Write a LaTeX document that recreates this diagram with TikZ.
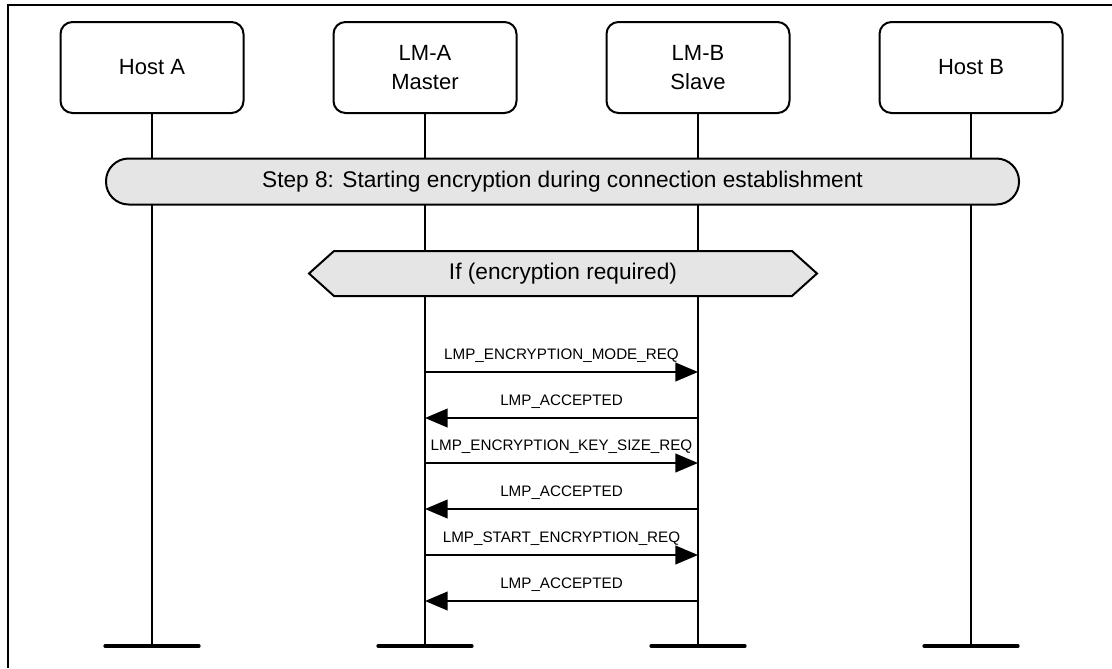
\documentclass[tikz,border=0pt]{standalone}
\usepackage{fontspec}
\setmainfont{Liberation Sans}
\usetikzlibrary{positioning,arrows.meta}
\definecolor{barfill}{HTML}{E5E5E5}

\begin{document}
\begin{tikzpicture}[
    x=0.75pt, y=-0.75pt,
    actor/.style={draw, line width=1.5pt, rounded corners=9pt, minimum width=137.25pt, minimum height=68.25pt, inner sep=0pt, align=center, font=\fontsize{16.5}{21.75}\selectfont},
    life/.style={line width=1.5pt},
    foot/.style={line width=3pt, line cap=round},
    stepbar/.style={draw, fill=barfill, line width=1.5pt, rounded corners=17pt, minimum width=684.75pt, minimum height=34.5pt, inner sep=0pt, font=\fontsize{17}{20}\selectfont},
    condbox/.style={draw, fill=barfill, line width=1.5pt},
    msg/.style={-{Triangle[length=17pt, width=14pt]}, line width=1.5pt},
    lbl/.style={midway, anchor=base, yshift=9.75pt, inner sep=0pt, font=\fontsize{11.4}{13}\selectfont},
    node distance=66pt
]
\useasboundingbox (0,0) rectangle (1112,668);
\draw[line width=1.5pt] (8,668) -- (8,5) -- (1112,5);

\node[actor] (hostA) at (152,67.5) {Host A};
\node[actor, right=of hostA] (lmA) {LM-A\\Master};
\node[actor, right=of lmA] (lmB) {LM-B\\Slave};
\node[actor, right=of lmB] (hostB) {Host B};

\foreach \n in {hostA,lmA,lmB,hostB} {
    \coordinate (\n-end) at (\n |- 0,646);
    \draw[life] (\n.south) -- (\n-end);
    \draw[foot] ([xshift=-35pt]\n-end) -- ([xshift=35pt]\n-end);
}

\node[stepbar] (step) at (562.5,181.5) {Step 8: Starting encryption during connection establishment};

\draw[condbox] (309,273.5) -- (334,251) -- (792,251) -- (817,273.5) -- (792,296) -- (334,296) -- cycle;
\node[font=\fontsize{17}{20}\selectfont] (cond) at (563,273.5) {If (encryption required)};

\draw[msg] (lmA |- 0,372) -- (lmB |- 0,372) node[lbl] {LMP\_ENCRYPTION\_MODE\_REQ};
\draw[msg] (lmB |- 0,418) -- (lmA |- 0,418) node[lbl] {LMP\_ACCEPTED};
\draw[msg] (lmA |- 0,463) -- (lmB |- 0,463) node[lbl] {LMP\_ENCRYPTION\_KEY\_SIZE\_REQ};
\draw[msg] (lmB |- 0,509) -- (lmA |- 0,509) node[lbl] {LMP\_ACCEPTED};
\draw[msg] (lmA |- 0,555) -- (lmB |- 0,555) node[lbl] {LMP\_START\_ENCRYPTION\_REQ};
\draw[msg] (lmB |- 0,601) -- (lmA |- 0,601) node[lbl] {LMP\_ACCEPTED};

\end{tikzpicture}
\end{document}
